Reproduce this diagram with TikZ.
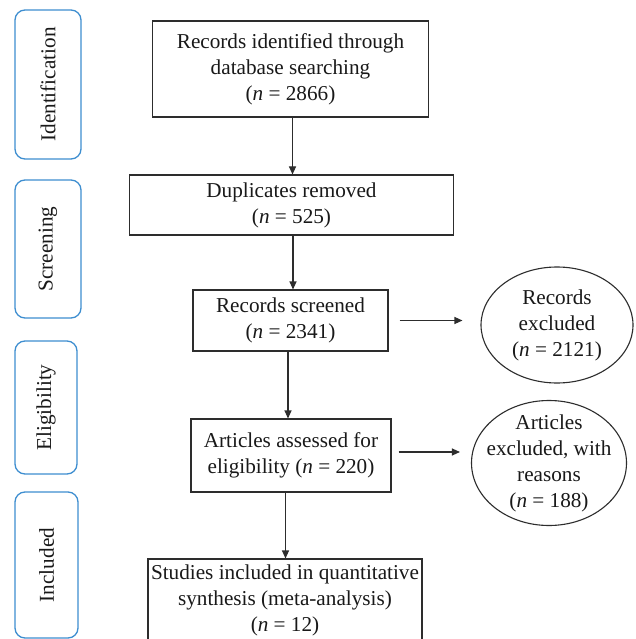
\documentclass[tikz,border=0pt]{standalone}
\usepackage{fontspec}
\setmainfont{Liberation Serif}
\newfontfamily\diagfont{Liberation Serif}
\usetikzlibrary{arrows.meta,shapes.geometric}
\definecolor{stageblue}{RGB}{62,142,208}
\definecolor{linegray}{RGB}{45,45,45}
\definecolor{textgray}{RGB}{25,25,25}
\begin{document}
\begin{tikzpicture}[x=1pt,y=-1pt,
  every node/.style={font=\diagfont\fontsize{21.2}{26}\selectfont, text=textgray},
  stagebox/.style={draw=stageblue,line width=1.3pt,rounded corners=10pt,rotate=90,inner sep=0pt},
  mainbox/.style={draw=linegray,line width=1.1pt,align=center,inner sep=0pt},
  exbox/.style={draw=linegray,line width=1.1pt,ellipse,inner sep=0pt},
  extext/.style={align=center,inner sep=0pt},
  arr/.style={draw=linegray,line width=1.1pt,-{Triangle[length=8pt,width=7pt]}}]
\useasboundingbox (0,0) rectangle (635,639);
\fill[white] (0,0) rectangle (635,639);

% stage labels
\node[stagebox, minimum width=149pt, minimum height=66pt] (sid) at (48,84.5) {Identification};
\node[stagebox, minimum width=138pt, minimum height=66pt] (ssc) at (48,249) {Screening};
\node[stagebox, minimum width=133pt, minimum height=62pt] (sel) at (46,407.5) {Eligibility};
\node[stagebox, minimum width=146pt, minimum height=63pt] (sin) at (46.5,565) {Included};

% main flow
\node[mainbox, minimum width=276pt, minimum height=96pt] (b1) at (290.5,69) {Records identified through\\database searching\\(\textit{n} = 2866)};
\node[mainbox, minimum width=324pt, minimum height=60pt] (b2) at (291.5,205) {Duplicates removed\\(\textit{n} = 525)};
\node[mainbox, minimum width=195pt, minimum height=61pt] (b3) at (290.5,320.5) {Records screened\\(\textit{n} = 2341)};
\node[mainbox, minimum width=200pt, minimum height=73pt] (b4) at (291,455.5) {Articles assessed for\\eligibility (\textit{n} = 220)};
\node[mainbox, minimum width=274pt, minimum height=82pt] (b5) at (285,600) {Studies included in quantitative\\synthesis (meta-analysis)\\(\textit{n} = 12)};

% exclusions
\node[exbox, minimum width=152pt, minimum height=116pt] (e1) at (557,325) {};
\node[extext] (e1t) at (e1.center) {Records\\excluded\\(\textit{n} = 2121)};
\node[exbox, minimum width=155pt, minimum height=125pt] (e2) at (549,463) {};
\node[extext] (e2t) at (e2.center) {Articles\\excluded, with\\reasons\\(\textit{n} = 188)};

% connectors
\draw[arr] ([xshift=2pt]b1.south) -- ([xshift=2pt]b1.south |- b2.north);
\draw[arr] ([xshift=1.5pt]b2.south) -- ([xshift=1.5pt]b2.south |- b3.north);
\draw[arr] ([xshift=-2.5pt]b3.south) -- ([xshift=-2.5pt]b3.south |- b4.north);
\draw[arr] ([xshift=0.5pt]b5.north |- b4.south) -- ([xshift=0.5pt]b5.north);
\draw[arr] ([xshift=11pt]b3.east) -- ([xshift=-18pt]b3.east -| e1.west);
\draw[arr] ([xshift=7pt,yshift=3.5pt]b4.east) -- ([xshift=-11pt,yshift=3.5pt]b4.east -| e2.west);
\end{tikzpicture}
\end{document}
